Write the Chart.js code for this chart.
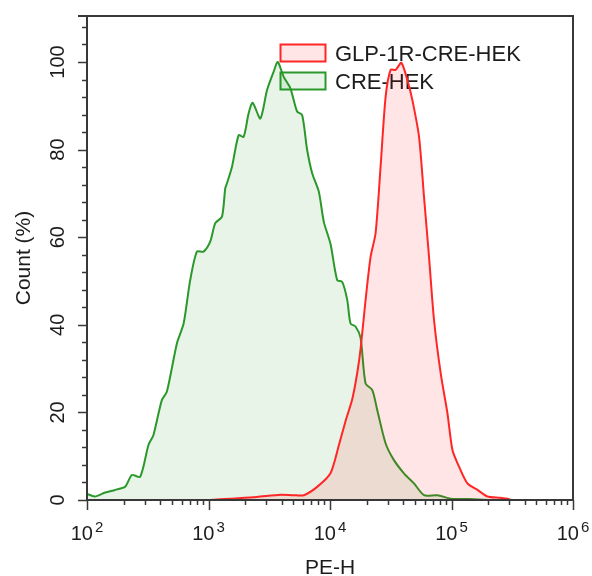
<!DOCTYPE html>
<html>
<head>
<meta charset="utf-8">
<script src="https://cdn.jsdelivr.net/npm/chart.js@4.4.1/dist/chart.umd.min.js"></script>
<style>
  body { margin: 0; background: #fff; }
  #wrap { width: 592px; height: 576px; }
</style>
</head>
<body>
<div id="wrap"><canvas id="histo" width="592" height="576"></canvas></div>
<script>
// PE-H (x) and Count (%) (y)
const glpX = [1030, 1500, 2500, 3906, 5000, 6080, 7840, 10090, 11830, 13420, 15240, 16750, 17850, 19630, 21580, 23720, 26080, 28700, 31540, 34670, 38650, 43330, 47640, 54050, 59400, 65300, 71800, 81500, 92600, 101800, 115400, 135200, 163500, 197600, 250000, 289000, 310000];
const glpY = [0, 0.3, 0.7, 1.2, 1.1, 1.1, 3.0, 6.1, 12.5, 18.0, 23.0, 29.0, 34.5, 45.7, 55.5, 60.9, 76.1, 92.1, 98.2, 98.2, 99.8, 95.9, 91.3, 82.9, 69.2, 55.5, 41.1, 28.9, 19.8, 11.4, 7.6, 3.8, 2.3, 0.8, 0.5, 0.3, 0];

const creX = [100, 116, 141, 170, 206, 234, 274, 321, 352, 413, 454, 550, 624, 707, 803, 910, 1033, 1137, 1291, 1374, 1419, 1561, 1771, 1946, 2140, 2308, 2672, 3033, 3440, 3713, 4160, 4722, 5357, 5897, 6487, 7130, 8090, 8893, 10090, 11460, 12600, 13860, 14760, 16220, 17850, 19630, 22290, 24500, 28700, 33600, 40600, 49100, 59400, 76500, 98600, 140000, 200000];
const creY = [1.4, 0.8, 1.7, 2.3, 3.0, 5.7, 5.3, 12.6, 14.8, 22.8, 24.7, 35.8, 40.3, 50.2, 56.7, 56.7, 59.0, 63.2, 64.7, 71.2, 72.3, 76.1, 83.3, 82.9, 88.3, 90.7, 87.1, 93.6, 97.8, 100, 96.6, 94.0, 88.7, 87.9, 79.9, 74.6, 70.4, 63.5, 58.5, 50.2, 49.8, 45.7, 40.3, 39.6, 37.0, 26.6, 25.1, 20.5, 12.9, 9.1, 6.1, 3.8, 1.1, 1.1, 0.3, 0.2, 0];

const seriesNames = ['GLP-1R-CRE-HEK', 'CRE-HEK'];
const xMajorTicks = [100, 1000, 10000, 100000, 1000000];
const xTickExponents = ['2', '3', '4', '5', '6'];
const yMajorTicks = [0, 20, 40, 60, 80, 100];
const yMinorStep = 4;

const FONT = '"Liberation Sans", Arial, sans-serif';
const redLine = '#ff2626', redFill = 'rgba(255,0,0,0.1)';
const greenLine = '#2a982a', greenFill = 'rgba(0,128,0,0.09)';

function pts(xs, ys) {
  return xs.map((x, i) => ({ x: x, y: ys[i] }));
}

const flowAxes = {
  id: 'flowAxes',
  beforeDatasetsDraw(chart) {
    // legend sits under the curves, like in the cytometer export
    const c = chart.ctx;
    const items = [[redLine, redFill, 44.5], [greenLine, greenFill, 72.5]];
    c.save();
    items.forEach((it, i) => {
      c.fillStyle = it[1];
      c.fillRect(280.5, it[2], 45, 17);
      c.strokeStyle = it[0];
      c.lineWidth = 2;
      c.strokeRect(280.5, it[2], 45, 17);
      c.fillStyle = '#1c1c1c';
      c.font = '22px ' + FONT;
      c.textAlign = 'left';
      c.textBaseline = 'alphabetic';
      c.fillText(seriesNames[i], 335, it[2] + 16);
    });
    c.restore();
  },
  afterDraw(chart) {
    const c = chart.ctx;
    const a = chart.chartArea;
    const xs = chart.scales.x, ys = chart.scales.y;
    c.save();
    c.strokeStyle = '#383838';
    c.lineWidth = 2;
    c.beginPath();
    c.moveTo(78, a.top); c.lineTo(a.right, a.top);
    c.lineTo(a.right, a.bottom); c.lineTo(a.left, a.bottom);
    c.lineTo(a.left, a.top);
    c.stroke();

    // y ticks
    c.lineWidth = 1.5;
    c.beginPath();
    for (let v = 0; v <= ys.max; v += yMinorStep) {
      const py = Math.round(ys.getPixelForValue(v)) + 0.5;
      const len = yMajorTicks.includes(v) ? 9 : 5;
      c.moveTo(a.left, py); c.lineTo(a.left - len, py);
    }
    // x ticks
    for (let d = 0; d < xMajorTicks.length; d++) {
      const base = xMajorTicks[d];
      for (let m = 1; m <= 9; m++) {
        if (d === xMajorTicks.length - 1 && m > 1) break;
        const px = Math.round(xs.getPixelForValue(base * m)) + 0.5;
        const len = m === 1 ? 10 : 5;
        c.moveTo(px, a.bottom); c.lineTo(px, a.bottom + len);
      }
    }
    c.stroke();

    c.fillStyle = '#1c1c1c';
    // y labels, rotated
    c.font = '20px ' + FONT;
    c.textAlign = 'center';
    c.textBaseline = 'middle';
    yMajorTicks.forEach(v => {
      c.save();
      c.translate(58, ys.getPixelForValue(v));
      c.rotate(-Math.PI / 2);
      c.fillText(String(v), 0, 0);
      c.restore();
    });
    // x labels as 10 with superscript
    c.textAlign = 'left';
    c.textBaseline = 'alphabetic';
    xMajorTicks.forEach((v, i) => {
      c.font = '20px ' + FONT;
      const wb = c.measureText('10').width;
      c.font = '15px ' + FONT;
      const we = c.measureText(xTickExponents[i]).width;
      const x0 = xs.getPixelForValue(v) - (wb + 2 + we) / 2;
      c.font = '20px ' + FONT;
      c.fillText('10', x0, 540);
      c.font = '15px ' + FONT;
      c.fillText(xTickExponents[i], x0 + wb + 2, 532);
    });

    // axis titles
    c.font = '21px ' + FONT;
    c.textAlign = 'center';
    c.fillText('PE-H', (a.left + a.right) / 2, 574);
    c.save();
    c.translate(24, (a.top + a.bottom) / 2);
    c.rotate(-Math.PI / 2);
    c.textBaseline = 'middle';
    c.fillText('Count (%)', 0, 0);
    c.restore();
    c.restore();
  }
};

const ctx = document.getElementById('histo');
new Chart(ctx, {
  type: 'line',
  data: {
    datasets: [{
      label: seriesNames[0],
      data: pts(glpX, glpY),
      borderColor: redLine,
      backgroundColor: redFill,
      fill: 'origin',
      borderWidth: 2,
      pointRadius: 0,
      tension: 0.25
    }, {
      label: seriesNames[1],
      data: pts(creX, creY),
      borderColor: greenLine,
      backgroundColor: greenFill,
      fill: 'origin',
      borderWidth: 2,
      pointRadius: 0,
      tension: 0.25
    }]
  },
  options: {
    responsive: false,
    animation: false,
    layout: { padding: { left: 87, right: 19, top: 16, bottom: 76 } },
    scales: {
      x: { type: 'logarithmic', min: 100, max: 1000000, display: false },
      y: { min: 0, max: 110.5, display: false }
    },
    plugins: {
      legend: { display: false },
      tooltip: { enabled: false }
    }
  },
  plugins: [flowAxes]
});
</script>
</body>
</html>
